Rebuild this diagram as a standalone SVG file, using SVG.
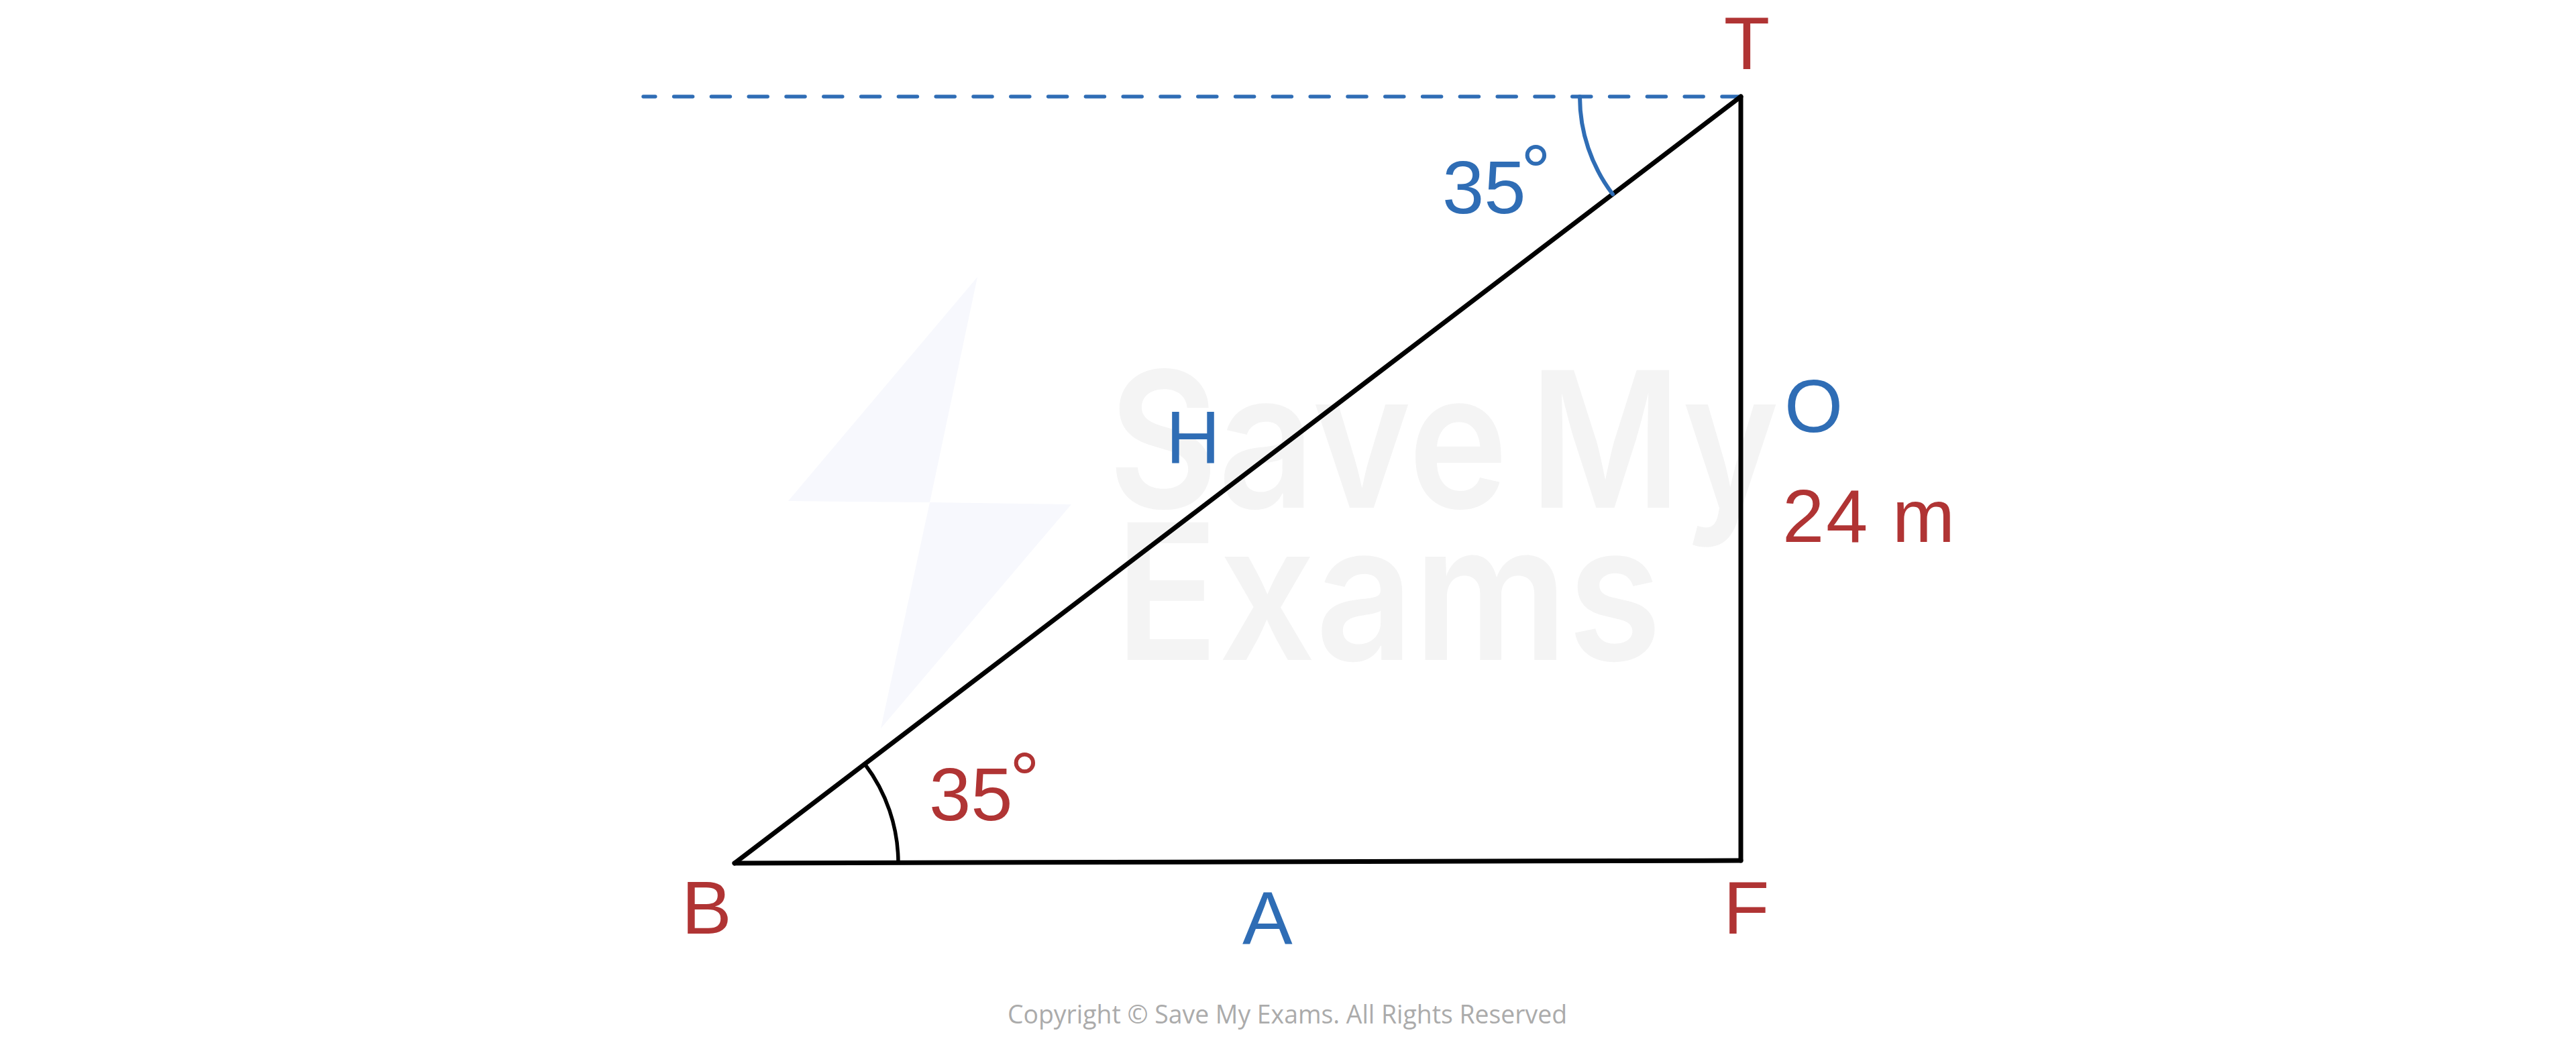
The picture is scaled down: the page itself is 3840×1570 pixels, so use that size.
<svg xmlns="http://www.w3.org/2000/svg" width="3840" height="1570" viewBox="0 0 3840 1570">
  <style>
    .lbl { font-family: "Liberation Sans", Arial, sans-serif; font-size: 112px; }
    .red { fill: #b03434; }
    .blue { fill: #2f6db5; }
    .side { stroke: #000; stroke-width: 7; fill: none; stroke-linecap: round; stroke-linejoin: round; }
    .wm { font-family: Inter, "Liberation Sans", sans-serif; font-weight: 600; font-size: 282px; fill: #f4f4f4; }
    .copy { font-family: "Open Sans", "Liberation Sans", sans-serif; font-size: 39px; fill: #ababab; }
  </style>
  <rect width="3840" height="1570" fill="#ffffff"/>

  <g id="watermark">
    <polygon points="1457,413 1175,747 1386,749" fill="#f7f8fd"/>
    <polygon points="1386,749 1597,752 1313,1086" fill="#f7f8fd"/>
    <text class="wm" y="757"><tspan x="1652" textLength="596" lengthAdjust="spacingAndGlyphs">Save</tspan><tspan x="2280" textLength="372" lengthAdjust="spacingAndGlyphs">My</tspan></text>
    <text class="wm" x="1662" y="984" textLength="815" lengthAdjust="spacingAndGlyphs">Exams</text>
  </g>

  <g id="connectors">
    <line id="horizontal-dashed" x1="2595" y1="144" x2="959" y2="144" stroke="#2f6db5" stroke-width="5.5" stroke-linecap="round" stroke-dasharray="28 27.8"/>
    <line id="side-BT" class="side" x1="1095" y1="1287" x2="2595" y2="144"/>
    <line id="side-TF" class="side" x1="2595" y1="144" x2="2595" y2="1283"/>
    <line id="side-BF" class="side" x1="1095" y1="1287" x2="2595" y2="1283"/>
  </g>

  <g id="angle-T">
    <path d="M 2355 144 A 240 240 0 0 0 2404 289.5" fill="none" stroke="#2f6db5" stroke-width="6" stroke-linecap="round"/>
    <text class="lbl blue" x="2150" y="318">35<tspan x="2267" y="294">°</tspan></text>
  </g>

  <g id="angle-B">
    <path d="M 1289 1139 A 244 244 0 0 1 1339 1286" fill="none" stroke="#000" stroke-width="5.5" stroke-linecap="round"/>
    <text class="lbl red" x="1385" y="1223">35<tspan x="1505" y="1200">°</tspan></text>
  </g>

  <g id="vertex-T"><text class="lbl red" x="2604" y="103" text-anchor="middle">T</text></g>
  <g id="vertex-B"><text class="lbl red" x="1016" y="1392">B</text></g>
  <g id="vertex-F"><text class="lbl red" x="2569" y="1392">F</text></g>

  <g id="label-H"><text class="lbl blue" x="1738" y="691">H</text></g>
  <g id="label-O"><text class="lbl blue" x="2660" y="644">O</text></g>
  <g id="label-A"><text class="lbl blue" x="1852" y="1407">A</text></g>
  <g id="label-24m"><text class="lbl red" x="2657" y="808" textLength="257" lengthAdjust="spacing">24 m</text></g>

  <g id="copyright">
    <text class="copy" x="1502" y="1526" textLength="834" lengthAdjust="spacingAndGlyphs">Copyright © Save My Exams. All Rights Reserved</text>
  </g>
</svg>
